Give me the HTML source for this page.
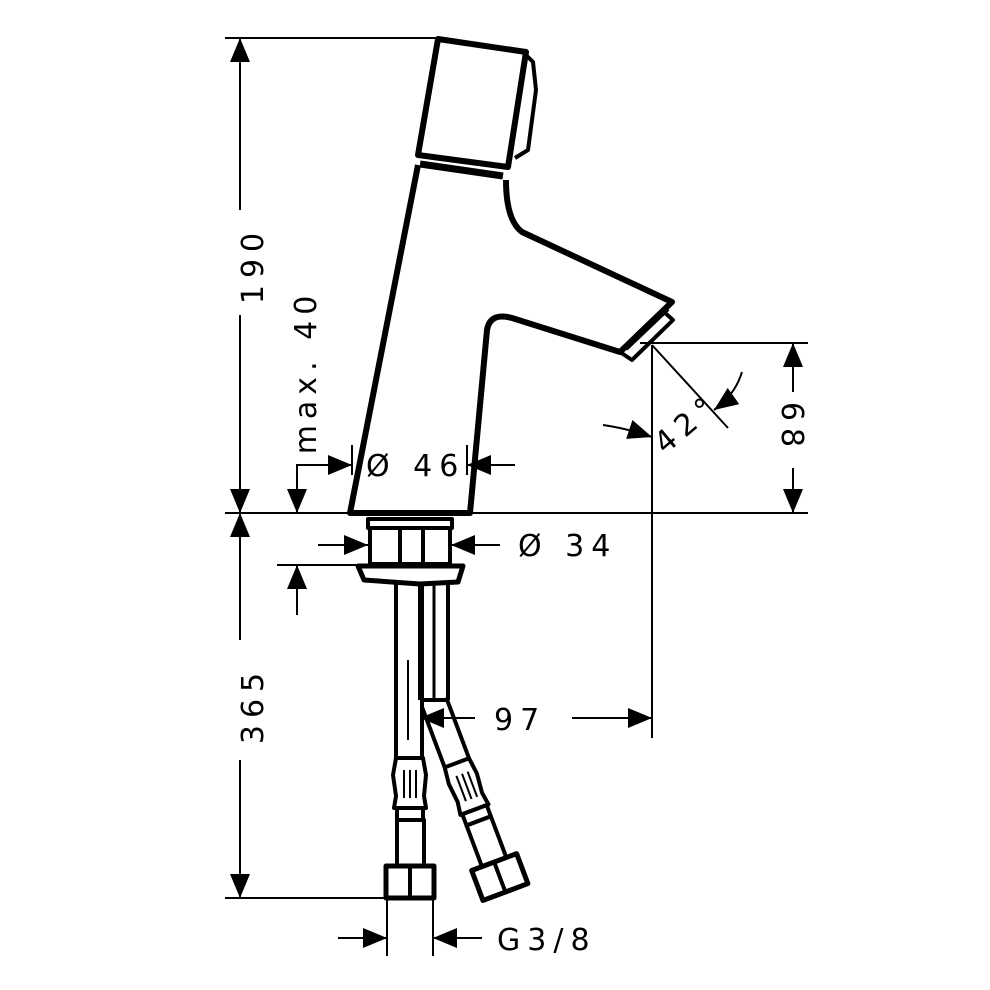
<!DOCTYPE html>
<html><head><meta charset="utf-8"><style>
html,body{margin:0;padding:0;background:#fff}
svg{display:block}
text{font-family:"DejaVu Sans","Liberation Sans",sans-serif;font-size:30px;fill:#000;letter-spacing:7px}
</style></head><body>
<svg width="990" height="990" viewBox="0 0 990 990" xmlns="http://www.w3.org/2000/svg">
<defs>
<marker id="a" viewBox="0 0 24 20" refX="24" refY="10" markerWidth="24" markerHeight="20" markerUnits="userSpaceOnUse" orient="auto"><path d="M0,0 L24,10 L0,20z" fill="#000"/></marker>
</defs>
<g stroke="#000" stroke-width="2" fill="none">
<line x1="225" y1="38" x2="438" y2="38"/>
<line x1="225" y1="513" x2="808" y2="513"/>
<line x1="225" y1="898" x2="385" y2="898"/>
<line x1="640" y1="343" x2="808" y2="343"/>
<line x1="652" y1="345" x2="652" y2="738"/>
<line x1="652" y1="345" x2="728" y2="428"/>
<line x1="277" y1="565" x2="360" y2="565"/>
<line x1="352" y1="445" x2="352" y2="475"/>
<line x1="467" y1="445" x2="467" y2="475"/>
<line x1="387" y1="900" x2="387" y2="956"/>
<line x1="433" y1="900" x2="433" y2="956"/>
<line x1="408" y1="660" x2="408" y2="740"/>
<line x1="240" y1="210" x2="240" y2="38" marker-end="url(#a)"/>
<line x1="240" y1="315" x2="240" y2="513" marker-end="url(#a)"/>
<line x1="240" y1="640" x2="240" y2="513" marker-end="url(#a)"/>
<line x1="240" y1="760" x2="240" y2="898" marker-end="url(#a)"/>
<polyline points="350,465 297,465 297,513" marker-end="url(#a)"/>
<line x1="297" y1="615" x2="297" y2="565" marker-end="url(#a)"/>
<line x1="300" y1="465" x2="352" y2="465" marker-end="url(#a)"/>
<line x1="515" y1="465" x2="467" y2="465" marker-end="url(#a)"/>
<line x1="318" y1="545" x2="368" y2="545" marker-end="url(#a)"/>
<line x1="500" y1="545" x2="451" y2="545" marker-end="url(#a)"/>
<line x1="475" y1="718" x2="420" y2="718" marker-end="url(#a)"/>
<line x1="572" y1="718" x2="652" y2="718" marker-end="url(#a)"/>
<line x1="793" y1="392" x2="793" y2="343" marker-end="url(#a)"/>
<line x1="793" y1="468" x2="793" y2="513" marker-end="url(#a)"/>
<path d="M742,372 Q735,395 714,410" marker-end="url(#a)"/>
<path d="M603,425 Q625,428 652,437" marker-end="url(#a)"/>
<line x1="338" y1="938" x2="387" y2="938" marker-end="url(#a)"/>
<line x1="482" y1="938" x2="433" y2="938" marker-end="url(#a)"/>
</g>
<g stroke="#000" stroke-width="6" fill="none" stroke-linejoin="round">
<path d="M438,39 L526,52 L508,167 L418,155 Z" fill="#fff"/>
<path d="M526,55 L533,62 L536,90 L528,150 L515,158" stroke-width="4"/>
<line x1="420" y1="164" x2="503" y2="176" stroke-width="7"/>
<path d="M418,165 L350,513 L470,513 L487,330 Q490,312 512,318 L620,352 L672,302 L522,232 Q506,220 506,180"/>
<path d="M620,352 L632,360 L673,320 L664,312 Z" stroke-width="4"/>
<line x1="626" y1="349" x2="668" y2="309" stroke-width="4"/>
<rect x="368" y="519" width="84" height="9" stroke-width="4"/>
<rect x="370" y="528" width="80" height="36" stroke-width="4"/>
<line x1="400" y1="530" x2="400" y2="564" stroke-width="4"/>
<line x1="423" y1="530" x2="423" y2="564" stroke-width="4"/>
<path d="M358,566 L463,566 L458,582 L420,584 L364,580 Z" stroke-width="5"/>
<line x1="396" y1="584" x2="396" y2="758" stroke-width="4"/>
<line x1="422" y1="584" x2="422" y2="758" stroke-width="4"/>
<path d="M396,758 L423,758 L426,775 L424,796 L426,808 L394,808 L396,796 L393,775 Z" stroke-width="4"/>
<line x1="404" y1="770" x2="404" y2="798" stroke-width="2"/>
<line x1="410" y1="770" x2="410" y2="798" stroke-width="2"/>
<line x1="416" y1="770" x2="416" y2="798" stroke-width="2"/>
<rect x="397" y="808" width="26" height="12" stroke-width="4"/>
<rect x="397" y="820" width="27" height="46" stroke-width="4"/>
<rect x="386" y="866" width="48" height="32" stroke-width="5"/>
<line x1="410" y1="866" x2="410" y2="898" stroke-width="4"/>
<line x1="420" y1="584" x2="420" y2="700" stroke-width="4"/>
<line x1="448" y1="584" x2="448" y2="700" stroke-width="4"/>
<line x1="434" y1="584" x2="434" y2="700" stroke-width="3"/>
<line x1="420" y1="700" x2="448" y2="700" stroke-width="4"/>
<g transform="translate(434,702) rotate(-20.6)" stroke-width="4">
<line x1="-13" y1="0" x2="-13" y2="65"/>
<line x1="13" y1="0" x2="13" y2="65"/>
<path d="M-13,65 L13,65 L15,82 L13,102 L15,115 L-15,115 L-13,102 L-15,82 Z"/>
<line x1="-5" y1="77" x2="-5" y2="104" stroke-width="2"/>
<line x1="1" y1="77" x2="1" y2="104" stroke-width="2"/>
<line x1="7" y1="77" x2="7" y2="104" stroke-width="2"/>
<rect x="-13" y="115" width="26" height="12"/>
<rect x="-13" y="127" width="26" height="44"/>
<rect x="-24" y="171" width="48" height="32" stroke-width="5"/>
<line x1="0" y1="171" x2="0" y2="203"/>
</g>
</g>
<text transform="translate(263,265) rotate(-90)" text-anchor="middle">190</text>
<text transform="translate(263,705) rotate(-90)" text-anchor="middle">365</text>
<text transform="translate(316,372) rotate(-90)" text-anchor="middle" style="letter-spacing:6px">max. 40</text>
<text x="366" y="476">Ø 46</text>
<text x="518" y="556">Ø 34</text>
<text x="494" y="730">97</text>
<text transform="translate(782,428) rotate(90)" text-anchor="middle">68</text>
<text transform="translate(665,455) rotate(-40)">42°</text>
<text x="497" y="950">G3/8</text>
</svg>
</body></html>
